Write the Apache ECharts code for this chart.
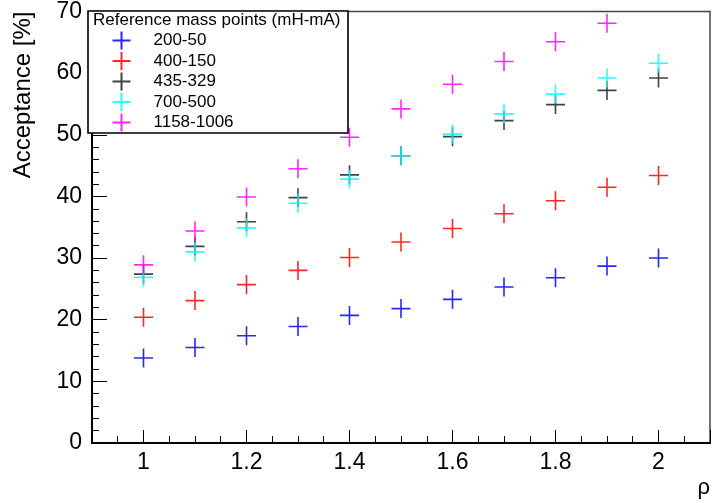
<!DOCTYPE html>
<html>
<head>
<meta charset="utf-8">
<script src="https://cdn.jsdelivr.net/npm/echarts@6/dist/echarts.min.js"></script>
<style>
html, body { margin: 0; padding: 0; background: #fff; }
#chart { width: 713px; height: 503px; }
</style>
</head>
<body>
<div id="chart"></div>
<script>
// rho values (x) and acceptance in % for each reference mass point
const rho = [1.0, 1.1, 1.2, 1.3, 1.4, 1.5, 1.6, 1.7, 1.8, 1.9, 2.0];
const acc200_50 = [13.8, 15.5, 17.4, 18.9, 20.7, 21.8, 23.3, 25.3, 26.8, 28.7, 30.0];
const acc400_150 = [20.4, 23.1, 25.7, 28.0, 30.1, 32.6, 34.8, 37.2, 39.3, 41.5, 43.4];
const acc435_329 = [27.4, 31.9, 35.9, 39.8, 43.5, 46.6, 49.7, 52.3, 54.9, 57.2, 59.2];
const acc700_500 = [26.9, 31.0, 34.9, 38.9, 42.8, 46.6, 50.1, 53.4, 56.6, 59.2, 61.6];
const acc1158_1006 = [28.9, 34.4, 39.9, 44.5, 49.6, 54.2, 58.2, 61.9, 65.1, 68.1, null];

const names = ["200-50", "400-150", "435-329", "700-500", "1158-1006"];
const values = [acc200_50, acc400_150, acc435_329, acc700_500, acc1158_1006];
const colors = ["#0000ff", "#ff0000", "#222222", "#00ffff", "#ff00ff"];

const font = "Liberation Sans";
const cross = "path://M0,10L20,10M10,0L10,20";

const series = names.map((n, i) => ({
  name: n,
  type: "scatter",
  symbol: cross,
  symbolSize: 19,
  itemStyle: { color: "none", borderColor: colors[i], borderWidth: 1.6, opacity: 0.85 },
  emphasis: { disabled: true },
  data: rho.map((x, j) => [x, values[i][j]])
}));

const option = {
  animation: false,
  title: {
    text: "Reference mass points (mH-mA)",
    left: 93,
    top: 12,
    padding: 0,
    textStyle: { fontFamily: font, fontSize: 17, fontWeight: "normal", color: "#000" }
  },
  graphic: [{
    type: "rect",
    z: 3,
    shape: { x: 88, y: 11, width: 260, height: 122 },
    style: { fill: "#fff", stroke: "#000", lineWidth: 1.6 }
  }],
  legend: {
    orient: "vertical",
    left: 110,
    top: 29,
    padding: 0,
    itemWidth: 20,
    itemHeight: 18,
    itemGap: -2.5,
    selectedMode: false,
    textStyle: { fontFamily: font, fontSize: 17, color: "#000", padding: [0, 0, 0, 17] },
    data: names
  },
  grid: {
    left: 92, right: 3, top: 11, bottom: 60,
    show: true, borderColor: "#444", borderWidth: 1.5
  },
  xAxis: {
    type: "value",
    min: 0.9,
    max: 2.1,
    splitNumber: 6,
    name: "ρ",
    nameLocation: "end",
    nameGap: 0,
    nameTextStyle: { fontFamily: font, fontSize: 22, color: "#000", align: "right", verticalAlign: "top", padding: [34, 0, 0, 0] },
    axisLine: { onZero: false, lineStyle: { color: "#000", width: 2 } },
    axisTick: { inside: true, length: 13, lineStyle: { color: "#000" } },
    minorTick: { show: true, splitNumber: 4, length: 7, lineStyle: { color: "#000" } },
    splitLine: { show: false },
    axisLabel: {
      showMinLabel: false, showMaxLabel: false, margin: 8,
      fontFamily: font, fontSize: 23, color: "#000"
    }
  },
  yAxis: {
    type: "value",
    min: 0,
    max: 70,
    interval: 10,
    name: "Acceptance [%]",
    nameLocation: "end",
    nameRotate: 90,
    nameGap: 0,
    nameTextStyle: { fontFamily: font, fontSize: 24, color: "#000", align: "right", verticalAlign: "bottom", padding: [0, 0, 57, 0] },
    axisLine: { lineStyle: { color: "#000", width: 2 } },
    axisTick: { inside: true, length: 15, lineStyle: { color: "#000" } },
    minorTick: { show: true, splitNumber: 5, length: 7, lineStyle: { color: "#000" } },
    splitLine: { show: false },
    axisLabel: { margin: 10, fontFamily: font, fontSize: 23, color: "#000" }
  },
  series: series
};

const chartObj = echarts.init(document.getElementById("chart"));
chartObj.setOption(option);
</script>
</body>
</html>
